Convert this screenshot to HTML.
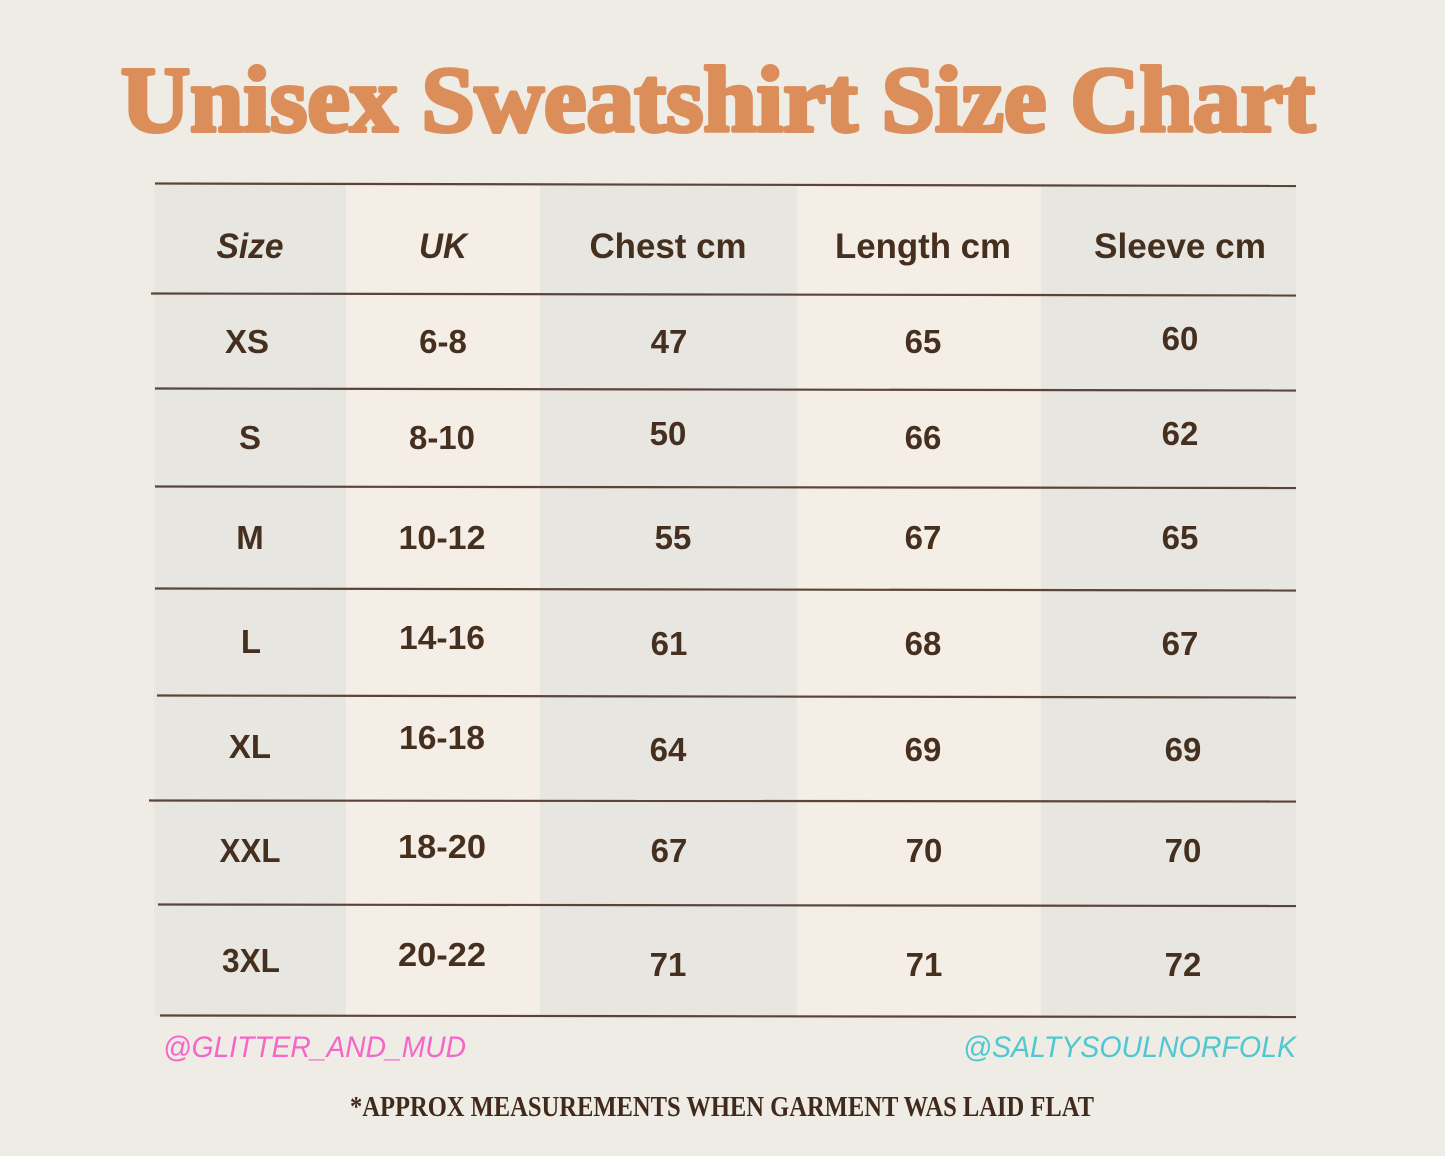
<!DOCTYPE html>
<html><head><meta charset="utf-8"><style>
html,body{margin:0;padding:0;background:#efebe5;}
svg{display:block;}
</style></head><body>
<svg width="1445" height="1156" viewBox="0 0 1445 1156" xmlns="http://www.w3.org/2000/svg">
<rect width="1445" height="1156" fill="#efebe5"/>
<!-- title -->
<text x="121" y="131" font-family="Liberation Serif, serif" font-weight="bold" font-size="93" fill="#dc8e5a" stroke="#dc8e5a" stroke-width="4" stroke-linejoin="round" textLength="1194" lengthAdjust="spacingAndGlyphs">Unisex Sweatshirt Size Chart</text>
<!-- columns -->
<rect x="154" y="185" width="192" height="831" fill="#e8e6e1"/>
<rect x="346" y="185" width="194" height="831" fill="#f5eee6"/>
<rect x="540" y="185" width="257" height="831" fill="#e8e6e1"/>
<rect x="797" y="185" width="244" height="831" fill="#f5eee6"/>
<rect x="1041" y="185" width="255" height="831" fill="#e8e6e1"/>
<!-- lines -->
<g stroke="#5a4538" stroke-width="2.2" fill="none">
<line x1="155" y1="183.5" x2="1296" y2="186"/>
<line x1="151" y1="293.5" x2="1296" y2="295.5"/>
<line x1="155" y1="388.5" x2="1296" y2="390.5"/>
<line x1="155" y1="486.5" x2="1296" y2="488"/>
<line x1="155" y1="588.5" x2="1296" y2="590.5"/>
<line x1="157" y1="695.5" x2="1296" y2="697.5"/>
<line x1="149" y1="800.5" x2="1296" y2="801.5"/>
<line x1="158" y1="904.5" x2="1296" y2="906"/>
<line x1="160" y1="1015.5" x2="1296" y2="1017"/>
</g>
<!-- header -->
<g font-family="Liberation Sans, sans-serif" font-weight="bold" font-size="35" fill="#45301f" text-anchor="middle">
<text x="250" y="258" font-style="italic" textLength="67" lengthAdjust="spacingAndGlyphs">Size</text>
<text x="443" y="258" font-style="italic" textLength="48" lengthAdjust="spacingAndGlyphs">UK</text>
<text x="668" y="258" textLength="157" lengthAdjust="spacingAndGlyphs">Chest cm</text>
<text x="923" y="258" textLength="176" lengthAdjust="spacingAndGlyphs">Length cm</text>
<text x="1180" y="258" textLength="172" lengthAdjust="spacingAndGlyphs">Sleeve cm</text>
</g>
<!-- body -->
<g font-family="Liberation Sans, sans-serif" font-weight="bold" font-size="33" fill="#45301f" text-anchor="middle">
<text x="247" y="353">XS</text><text x="443" y="353">6-8</text><text x="669" y="353">47</text><text x="923" y="353">65</text><text x="1180" y="350">60</text>
<text x="250" y="449">S</text><text x="442" y="449">8-10</text><text x="668" y="445">50</text><text x="923" y="449">66</text><text x="1180" y="445">62</text>
<text x="250" y="549">M</text><text x="442" y="549" textLength="87" lengthAdjust="spacingAndGlyphs">10-12</text><text x="673" y="549">55</text><text x="923" y="549">67</text><text x="1180" y="549">65</text>
<text x="251" y="653">L</text><text x="442" y="649" textLength="86" lengthAdjust="spacingAndGlyphs">14-16</text><text x="669" y="655">61</text><text x="923" y="655">68</text><text x="1180" y="655">67</text>
<text x="250" y="758">XL</text><text x="442" y="749" textLength="86" lengthAdjust="spacingAndGlyphs">16-18</text><text x="668" y="761">64</text><text x="923" y="761">69</text><text x="1183" y="761">69</text>
<text x="250" y="862" textLength="61" lengthAdjust="spacingAndGlyphs">XXL</text><text x="442" y="858" textLength="88" lengthAdjust="spacingAndGlyphs">18-20</text><text x="669" y="862">67</text><text x="924" y="862">70</text><text x="1183" y="862">70</text>
<text x="251" y="972" textLength="58" lengthAdjust="spacingAndGlyphs">3XL</text><text x="442" y="966" textLength="88" lengthAdjust="spacingAndGlyphs">20-22</text><text x="668" y="976">71</text><text x="924" y="976">71</text><text x="1183" y="976">72</text>
</g>
<!-- handles -->
<text x="163" y="1057" font-family="Liberation Sans, sans-serif" font-style="italic" font-size="30" fill="#f566c8" textLength="303" lengthAdjust="spacingAndGlyphs">@GLITTER_AND_MUD</text>
<text x="963" y="1057" font-family="Liberation Sans, sans-serif" font-style="italic" font-size="30" fill="#50c8d0" textLength="333" lengthAdjust="spacingAndGlyphs">@SALTYSOULNORFOLK</text>
<!-- note -->
<text x="350" y="1116" font-family="Liberation Serif, serif" font-weight="bold" font-size="29" fill="#3f2a1c" textLength="744" lengthAdjust="spacingAndGlyphs">*APPROX MEASUREMENTS WHEN GARMENT WAS LAID FLAT</text>
</svg>
</body></html>
